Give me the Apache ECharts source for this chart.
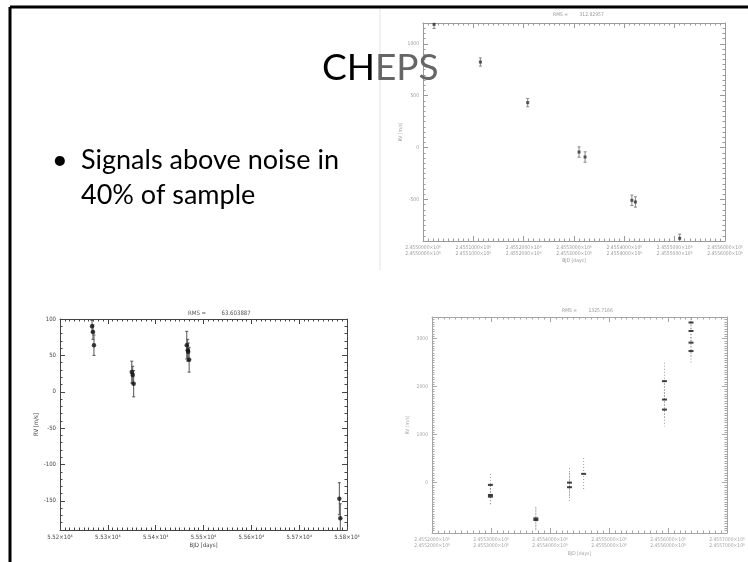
<!DOCTYPE html>
<html>
<head>
<meta charset="utf-8">
<script src="https://cdn.jsdelivr.net/npm/echarts@6/dist/echarts.min.js"></script>
<style>
html,body{margin:0;padding:0;background:#fff;}
#c{width:748px;height:562px;}
</style>
</head>
<body>
<div id="c"></div>
<script>
// ---------- data ----------
// top-right panel (BJD, RV m/s)
const trX = [2455022, 2455114, 2455208, 2455310, 2455322, 2455415, 2455422, 2455510];
const trY = [1187, 824, 433, -43, -91, -508, -524, -874];
const trE = [40, 40, 40, 50, 50, 50, 50, 40];
const trXTicks = [2455000, 2455100, 2455200, 2455300, 2455400, 2455500, 2455600];
const trYTicks = [-500, 0, 500, 1000];

// bottom-left panel (BJD - 2400000, RV m/s)
const blX = [55267, 55269, 55271, 55350, 55352, 55354, 55465, 55467, 55468, 55470, 55784, 55786];
const blY = [90, 82, 64, 27, 23, 11, 64, 57, 55, 44, -147, -174];
const blE = [8, 10, 14, 15, 12, 18, 19, 15, 12, 17, 22, 20];
const blXTicks = [55200, 55300, 55400, 55500, 55600, 55700, 55800];
const blYTicks = [-150, -100, -50, 0, 50, 100];

// bottom-right panel (BJD, RV m/s)
const brX = [2455299, 2455299, 2455299, 2455376, 2455376, 2455433, 2455433, 2455457, 2455594, 2455594, 2455594, 2455639, 2455639, 2455639, 2455639];
const brY = [-48, -257, -293, -745, -780, 0, -96, 182, 2113, 1730, 1521, 3335, 3159, 2916, 2741];
const brE = [230, 200, 180, 240, 245, 300, 300, 330, 385, 400, 350, 100, 250, 300, 280];
const brXTicks = [2455200, 2455300, 2455400, 2455500, 2455600, 2455700];
const brYTicks = [0, 1000, 2000, 3000];

const slideTitle = ['CH', 'EPS'];
const bulletLines = ['Signals above noise in', '40% of sample'];
const rmsTR = '312.82957', rmsBL = '63.603887', rmsBR = '1325.7166';

// ---------- chart ----------
const chart = echarts.init(document.getElementById('c'), null, {renderer: 'canvas'});
const FONT = '"Liberation Sans Narrow","DejaVu Sans Condensed","DejaVu Sans",sans-serif';
const xAxis = [], yAxis = [], grid = [];

function addPanel(g, box, xc, yc) {
  grid.push(Object.assign({show: false, containLabel: false}, box));
  const lineStyle = {color: xc.color, width: 1};
  const common = {type: 'value', gridIndex: g, min: xc.min, max: xc.max, interval: xc.interval,
    splitLine: {show: false}, axisLine: {show: true, onZero: false, lineStyle},
    axisTick: {show: true, inside: true, length: 5, lineStyle},
    minorTick: {show: true, splitNumber: xc.minorSplit, length: 2.5, lineStyle},
    minorSplitLine: {show: false}};
  xAxis.push(Object.assign({}, common, {position: 'bottom',
    name: xc.name, nameLocation: 'middle', nameGap: xc.nameGap,
    nameTextStyle: {color: xc.labelColor, fontSize: xc.nameSize, fontFamily: FONT},
    axisLabel: {show: true, color: xc.labelColor, fontSize: xc.labelSize, fontFamily: FONT, margin: 4,
      lineHeight: xc.labelSize + 1, formatter: xc.fmt, customValues: xc.ticks}}));
  xAxis.push(Object.assign({}, common, {position: 'top', axisLabel: {show: false}}));
  const ylStyle = {color: yc.color, width: 1};
  ['left', 'right'].forEach(pos => {
    yAxis.push({type: 'value', gridIndex: g, position: pos, min: yc.min, max: yc.max, interval: yc.minor,
      splitLine: {show: false}, axisLine: {show: true, onZero: false, lineStyle: ylStyle},
      axisTick: {show: true, inside: true, length: 2.5, lineStyle: ylStyle},
      axisLabel: {show: false}});
    yAxis.push({type: 'value', gridIndex: g, position: pos, min: yc.min, max: yc.max, interval: yc.minor,
      splitLine: {show: false}, axisLine: {show: false},
      axisTick: {show: true, inside: true, length: 5, lineStyle: ylStyle, customValues: yc.ticks},
      name: pos === 'left' ? yc.name : '', nameLocation: 'middle', nameGap: yc.nameGap, nameRotate: 90,
      nameTextStyle: {color: yc.labelColor, fontSize: yc.nameSize, fontFamily: FONT},
      axisLabel: {show: pos === 'left', color: yc.labelColor, fontSize: yc.labelSize, fontFamily: FONT,
        margin: 4, customValues: yc.ticks, formatter: yc.fmt}});
  });
}

const sup = {'0':'⁰','1':'¹','2':'²','3':'³','4':'⁴','5':'⁵','6':'⁶','7':'⁷','8':'⁸','9':'⁹'};
function sci(v, exp, dig) {
  return (v / Math.pow(10, exp)).toFixed(dig) + '×10' + String(exp).split('').map(c => sup[c]).join('');
}

// panel 0 : top-right
addPanel(0, {left: 423, top: 23, width: 302, height: 218},
  {min: 2455000, max: 2455600, interval: 100, minorSplit: 10, ticks: trXTicks, color: '#9a9a9a',
   labelColor: '#9a9a9a', labelSize: 5, fmt: v => sci(v, 6, 7) + '\n' + sci(v, 6, 7),
   name: 'BJD [days]', nameGap: 16, nameSize: 5},
  {min: -900, max: 1200, minor: 50, ticks: trYTicks, color: '#9a9a9a', labelColor: '#9a9a9a',
   labelSize: 5, fmt: v => String(v), name: 'RV [m/s]', nameGap: 18, nameSize: 5});
// panel 1 : bottom-left
addPanel(1, {left: 60, top: 319, width: 287, height: 211},
  {min: 55200, max: 55800, interval: 100, minorSplit: 10, ticks: blXTicks, color: '#444',
   labelColor: '#444', labelSize: 6, fmt: v => sci(v, 4, 2),
   name: 'BJD [days]', nameGap: 12, nameSize: 6},
  {min: -190, max: 100, minor: 10, ticks: blYTicks, color: '#444', labelColor: '#444',
   labelSize: 6, fmt: v => String(v), name: 'RV [m/s]', nameGap: 18, nameSize: 6});
// panel 2 : bottom-right
addPanel(2, {left: 432, top: 317, width: 295, height: 216},
  {min: 2455200, max: 2455700, interval: 100, minorSplit: 10, ticks: brXTicks, color: '#a5a5a5',
   labelColor: '#a5a5a5', labelSize: 5, fmt: v => sci(v, 6, 7) + '\n' + sci(v, 6, 7),
   name: 'BJD [days]', nameGap: 18, nameSize: 5},
  {min: -1050, max: 3450, minor: 50, ticks: brYTicks, color: '#a5a5a5', labelColor: '#a5a5a5',
   labelSize: 5, fmt: v => String(v), name: 'RV [m/s]', nameGap: 22, nameSize: 5});

function errSeries(g, xs, ys, es, color, dash, cap) {
  return {type: 'custom', xAxisIndex: 2 * g, yAxisIndex: 4 * g, clip: true, silent: true, z: 3,
    data: xs.map((x, i) => [x, ys[i] - es[i], ys[i] + es[i]]),
    renderItem: function (params, api) {
      const a = api.coord([api.value(0), api.value(2)]);
      const b = api.coord([api.value(0), api.value(1)]);
      const st = {stroke: color, lineWidth: 1, lineDash: dash};
      const ch = [{type: 'line', shape: {x1: a[0], y1: a[1], x2: b[0], y2: b[1]}, style: st}];
      if (cap) {
        ch.push({type: 'line', shape: {x1: a[0] - cap, y1: a[1], x2: a[0] + cap, y2: a[1]}, style: {stroke: color, lineWidth: 1}});
        ch.push({type: 'line', shape: {x1: b[0] - cap, y1: b[1], x2: b[0] + cap, y2: b[1]}, style: {stroke: color, lineWidth: 1}});
      }
      return {type: 'group', children: ch};
    }};
}

const series = [
  errSeries(0, trX, trY, trE, '#888', null, 1.5),
  {type: 'scatter', xAxisIndex: 0, yAxisIndex: 0, data: trX.map((x, i) => [x, trY[i]]),
   symbol: 'rect', symbolSize: [3, 3], itemStyle: {color: '#333'}, z: 4, silent: true},
  errSeries(1, blX, blY, blE, '#555', null, 1.5),
  {type: 'scatter', xAxisIndex: 2, yAxisIndex: 4, data: blX.map((x, i) => [x, blY[i]]),
   symbol: 'circle', symbolSize: 4.5, itemStyle: {color: '#111'}, z: 4, silent: true},
  errSeries(2, brX, brY, brE, '#999', [1, 2], 0),
  {type: 'scatter', xAxisIndex: 4, yAxisIndex: 8, data: brX.map((x, i) => [x, brY[i]]),
   symbol: 'rect', symbolSize: [5, 2], itemStyle: {color: '#111'}, z: 4, silent: true}
];

const SLIDE_FONT = 'Lato, "Open Sans", sans-serif';
const graphic = [
  {type: 'line', shape: {x1: 10, y1: 7, x2: 748, y2: 7}, style: {stroke: '#000', lineWidth: 3}, z: 10},
  {type: 'line', shape: {x1: 10, y1: 7, x2: 10, y2: 562}, style: {stroke: '#000', lineWidth: 3}, z: 10},
  {type: 'line', shape: {x1: 380, y1: 9, x2: 380, y2: 270}, style: {stroke: '#e4e4e4', lineWidth: 1}, z: 1},
  {type: 'text', x: 322, y: 68, z: 5, style: {text: '{a|' + slideTitle[0] + '}{b|' + slideTitle[1] + '}', verticalAlign: 'middle',
    rich: {a: {fontSize: 37, fontFamily: SLIDE_FONT, fill: '#000'},
           b: {fontSize: 37, fontFamily: SLIDE_FONT, fill: '#666'}}}},
  {type: 'text', x: 52, y: 160, z: 5, style: {text: '•', fontSize: 27, fontFamily: SLIDE_FONT, fill: '#000', verticalAlign: 'middle'}},
  {type: 'text', x: 81, y: 160, z: 5, style: {text: bulletLines[0], fontSize: 27, fontFamily: SLIDE_FONT, fill: '#000', verticalAlign: 'middle'}},
  {type: 'text', x: 81, y: 195, z: 5, style: {text: bulletLines[1], fontSize: 27, fontFamily: SLIDE_FONT, fill: '#000', verticalAlign: 'middle'}},
  {type: 'text', x: 553, y: 15, z: 5, style: {text: 'RMS =        ' + rmsTR, fontSize: 5, fontFamily: FONT, fill: '#999', verticalAlign: 'middle'}},
  {type: 'text', x: 188, y: 313, z: 5, style: {text: 'RMS =         ' + rmsBL, fontSize: 6, fontFamily: FONT, fill: '#555', verticalAlign: 'middle'}},
  {type: 'text', x: 562, y: 311, z: 5, style: {text: 'RMS =        ' + rmsBR, fontSize: 5, fontFamily: FONT, fill: '#999', verticalAlign: 'middle'}}
];

chart.setOption({animation: false, backgroundColor: '#fff', grid, xAxis, yAxis, series, graphic});
</script>
</body>
</html>
